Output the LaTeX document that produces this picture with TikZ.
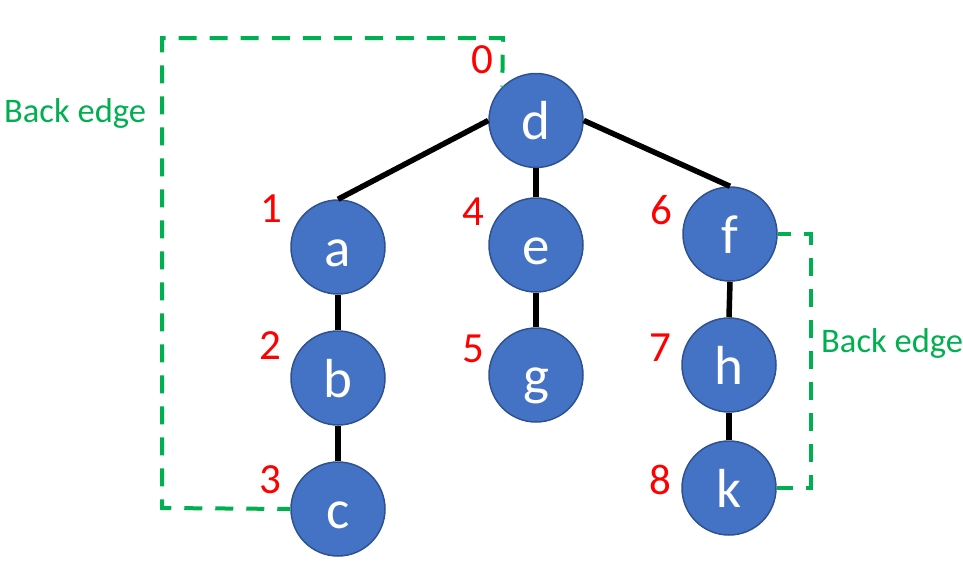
\documentclass[tikz,border=0pt]{standalone}
\usepackage{fontspec}
\setmainfont{Carlito}
\definecolor{nodeblue}{HTML}{4472C4}
\definecolor{nodeborder}{HTML}{2F528F}
\definecolor{bkgreen}{HTML}{00B050}
\begin{document}
\begin{tikzpicture}[x=1pt,y=-1pt,
  vtx/.style={circle, fill=nodeblue, draw=nodeborder, line width=1.5pt, minimum size=94pt, inner sep=0pt, text=white, font=\fontsize{55}{60}\selectfont, text height=38pt, text depth=0pt},
  tree/.style={line width=5.5pt, draw=black},
  back/.style={draw=bkgreen, line width=4pt, dash pattern=on 18pt off 13pt, dash phase=5pt},
  num/.style={text=red, font=\fontsize{43}{48}\selectfont, anchor=base, inner sep=0pt},
  lbl/.style={text=bkgreen, font=\fontsize{34.5}{40}\selectfont, anchor=base west, inner sep=0pt}]
\useasboundingbox (0,0) rectangle (963,568);
% vertices
\node[vtx] (d) at (536,120.5) {d};
\node[vtx] (a) at (338,247) {a};
\node[vtx] (e) at (536,245) {e};
\node[vtx] (f) at (730,234) {f};
\node[vtx] (b) at (338,378) {b};
\node[vtx] (g) at (536,375) {g};
\node[vtx] (h) at (729,365) {h};
\node[vtx] (c) at (338,509) {c};
\node[vtx] (k) at (729,488) {k};
% tree edges
\draw[tree] (d.west) -- (a.north);
\draw[tree] (d.south) -- (e.north);
\draw[tree] (d.east) -- (f.north);
\draw[tree] (a.south) -- (b.north);
\draw[tree] (b.south) -- (c.north);
\draw[tree] (e.south) -- (g.north);
\draw[tree] (f.south) -- (h.north);
\draw[tree] (h.south) -- (k.north);
% DFS numbers
\node[num] (n0) at (482,73) {0};
\node[num] (n1) at (271,222) {1};
\node[num] (n2) at (270,359) {2};
\node[num] (n3) at (270,493) {3};
\node[num] (n4) at (473,225) {4};
\node[num] (n5) at (473,362) {5};
\node[num] (n6) at (661,224) {6};
\node[num] (n7) at (660,361) {7};
\node[num] (n8) at (660,494) {8};
% back edges
\coordinate (bl) at (162,508);
\coordinate (tl) at (162,38);
\coordinate (tr) at (503,38);
\draw[back] (c.west) -- (bl) -- (tl) -- (tr) -- (d.135);
\coordinate (rt) at (811,234);
\coordinate (rb) at (811,488);
\draw[back] (f.east) -- (rt) -- (rb) -- (k.east);
% labels
\node[lbl] (lb1) at (4,122) {Back edge};
\node[lbl] (lb2) at (821,352) {Back edge};
\end{tikzpicture}
\end{document}
